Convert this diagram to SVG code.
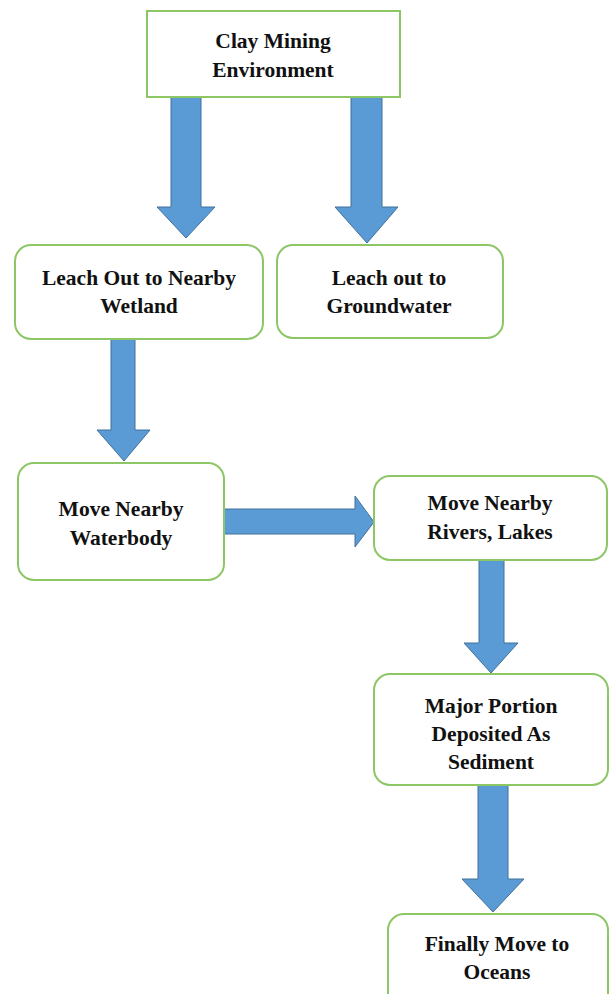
<svg xmlns="http://www.w3.org/2000/svg" width="609" height="994" viewBox="0 0 609 994">
<style>
.box{fill:#ffffff;stroke:#8cc665;stroke-width:2}
.arr{fill:#5b9bd5;stroke:#41719c;stroke-width:1}
.t{font-family:'Liberation Serif','Times New Roman',serif;font-weight:bold;font-size:21.5px;fill:#111;text-anchor:middle}
</style>
<rect width="609" height="994" fill="#ffffff"/>
<g id="connectors">
<path class="arr" d="M171,97 H201 V207 H215 L186,238 L157,207 H171 Z"/>
<path class="arr" d="M351,97 H382 V207 H398 L367,243 L335,207 H351 Z"/>
<path class="arr" d="M111,339 H135 V430 H150 L124,461 L97,430 H111 Z"/>
<path class="arr" d="M222,509 H355 V496 L374,522 L355,547 V534 H222 Z"/>
<path class="arr" d="M479,560 H504 V643 H518 L491,673 L464,643 H479 Z"/>
<path class="arr" d="M478,785 H508 V879 H524 L493,912 L462,879 H478 Z"/>
</g>
<g id="n1">
<rect class="box" x="147" y="11" width="253" height="86"/>
<text class="t" x="273" y="48">Clay Mining</text>
<text class="t" x="273" y="77">Environment</text>
</g>
<g id="n2">
<rect class="box" x="15" y="245" width="248" height="94" rx="16"/>
<text class="t" x="139" y="285">Leach Out to Nearby</text>
<text class="t" x="139" y="313">Wetland</text>
</g>
<g id="n3">
<rect class="box" x="277" y="245" width="226" height="93" rx="16"/>
<text class="t" x="389" y="285">Leach out to</text>
<text class="t" x="389" y="313">Groundwater</text>
</g>
<g id="n4">
<rect class="box" x="18" y="463" width="206" height="117" rx="16"/>
<text class="t" x="121" y="516">Move Nearby</text>
<text class="t" x="121" y="545">Waterbody</text>
</g>
<g id="n5">
<rect class="box" x="374" y="476" width="233" height="84" rx="16"/>
<text class="t" x="490" y="510">Move Nearby</text>
<text class="t" x="490" y="539">Rivers, Lakes</text>
</g>
<g id="n6">
<rect class="box" x="374" y="674" width="234" height="111" rx="16"/>
<text class="t" x="491" y="713">Major Portion</text>
<text class="t" x="491" y="741">Deposited As</text>
<text class="t" x="491" y="769">Sediment</text>
</g>
<g id="n7">
<rect class="box" x="388" y="914" width="220" height="100" rx="16"/>
<text class="t" x="497" y="951">Finally Move to</text>
<text class="t" x="497" y="979">Oceans</text>
</g>
</svg>
